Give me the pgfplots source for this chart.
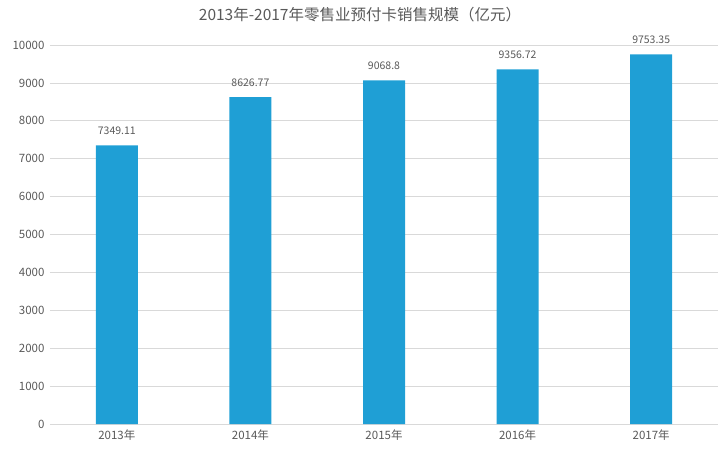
\documentclass[border=0pt]{standalone}
\usepackage{pgfplots}
\pgfplotsset{compat=1.18}
\usepackage{fontspec}
\setmainfont{Noto Sans CJK SC}
\definecolor{barblue}{RGB}{31,159,213}
\definecolor{txtgray}{RGB}{89,89,89}
\definecolor{gridgray}{RGB}{217,217,217}
\begin{document}
\begin{tikzpicture}[x=1pt,y=1pt]
\useasboundingbox (0,0) rectangle (720,451);
\node[text=txtgray,font=\fontsize{15.5}{18}\selectfont] at (360,436) {2013年-2017年零售业预付卡销售规模（亿元）};
\begin{axis}[
  at={(50pt,27pt)}, anchor=south west,
  scale only axis, width=668pt, height=379pt,
  xmin=-0.5, xmax=4.5, ymin=0, ymax=10000,
  xtick=data, xticklabels={2013年,2014年,2015年,2016年,2017年},
  ytick={0,1000,...,10000},
  axis line style={draw=none},
  major tick length=0pt,
  ymajorgrids, grid style={gridgray, line width=0.8pt},
  tick label style={text=txtgray, font=\fontsize{11.5}{13}\selectfont},
  /pgf/number format/assume math mode=true,
  yticklabel style={/pgf/number format/1000 sep={}, xshift=-2pt},
  scaled y ticks=false,
  xticklabel style={yshift=-2pt},
  point meta=explicit symbolic,
  nodes near coords,
  every node near coord/.append style={text=txtgray, font=\fontsize{10.5}{12}\selectfont, yshift=7pt},
  clip=false,
]
\addplot[ybar, bar width=42pt, fill=barblue, draw=none] coordinates {
 (0,7349.11) [7349.11]
 (1,8626.77) [8626.77]
 (2,9068.8) [9068.8]
 (3,9356.72) [9356.72]
 (4,9753.35) [9753.35]
};
\end{axis}
\end{tikzpicture}
\end{document}
